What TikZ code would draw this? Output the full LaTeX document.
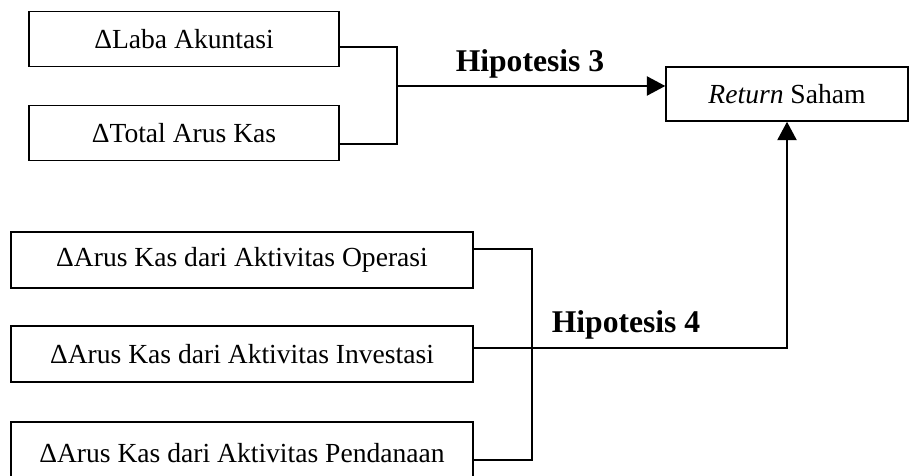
\documentclass[tikz,border=0pt]{standalone}
\usepackage{fontspec}
\setmainfont{Liberation Serif}
\usetikzlibrary{arrows.meta}

\begin{document}
\begin{tikzpicture}[x=0.02cm,y=-0.02cm,>={Triangle[length=10.5pt,width=11pt]},
	                    line width=0.9pt]
		  \tikzstyle{box}=[draw=black,fill=white,text=black,inner sep=0pt,
		                   font=\fontsize{15.7}{18}\selectfont]
		  \tikzstyle{hyp}=[anchor=base,font=\fontsize{18}{21}\selectfont\bfseries]

		  \useasboundingbox (0,0) rectangle (909,476);

		  \node[box,minimum width=6.2cm,minimum height=1.1cm]   (laba)      at (184,39)  {ΔLaba Akuntasi};
		  \node[box,minimum width=6.2cm,minimum height=1.1cm]   (total)     at (184,133) {ΔTotal Arus Kas};
		  \node[box,minimum width=4.84cm,minimum height=1.08cm] (ret)       at (787,94)  {\textit{Return} Saham};
		  \node[box,minimum width=9.24cm,minimum height=1.12cm] (operasi)   at (242,260) {ΔArus Kas dari Aktivitas Operasi};
		  \node[box,minimum width=9.24cm,minimum height=1.12cm] (investasi) at (242,354) {ΔArus Kas dari Aktivitas Investasi};
		  \node[box,minimum width=9.24cm,minimum height=1.24cm] (pendanaan) at (242,453) {ΔArus Kas dari Aktivitas Pendanaan};

		  \coordinate (j3) at (397,86);
		  \coordinate (j4) at (532,348);

		  \node[hyp] (h3) at (530,72)  {Hipotesis 3};
		  \node[hyp] (h4) at (626,332) {Hipotesis 4};

		  \draw (laba.east) ++(0,8) -| (j3);
		  \draw (total.east) ++(0,11) -| (j3);
		  \draw[->] (j3) -- (j3 -| ret.west);
		  \draw (operasi.east) ++(0,-11) -| (j4);
		  \draw (pendanaan.east) ++(0,7) -| (j4);
		  \draw[->] (investasi.east) ++(0,-6) -- (j4) -| (ret.south);
		\end{tikzpicture}
\end{document}
